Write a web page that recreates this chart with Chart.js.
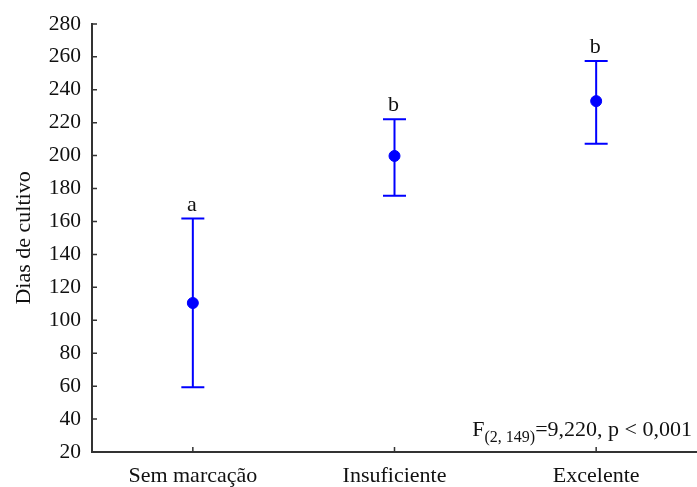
<!DOCTYPE html>
<html>
<head>
<meta charset="utf-8">
<script src="https://cdn.jsdelivr.net/npm/chart.js@4.4.1/dist/chart.umd.min.js"></script>
<style>
  html, body { margin: 0; padding: 0; background: #fff; }
  #grafico { display: block; }
</style>
</head>
<body>
<canvas id="grafico" width="697" height="487"></canvas>
<script>
// Dados
const categorias = ['Sem marcação', 'Insuficiente', 'Excelente'];
const medias = [110.5, 199.8, 233.1];
const limiteInferior = [59.4, 175.6, 207.2];
const limiteSuperior = [161.8, 222.1, 257.5];
const letras = ['a', 'b', 'b'];
const yTicks = [20, 40, 60, 80, 100, 120, 140, 160, 180, 200, 220, 240, 260, 280];

const fonte = "'Liberation Serif', 'Times New Roman', serif";
const azul = '#0000ff';

// Barras de erro, marcas internas dos eixos e anotações
const plugErro = {
    id: 'plugErro',
    beforeDatasetsDraw(chart) {
        const ctx = chart.ctx;
        const x = chart.scales.x, y = chart.scales.y;
        ctx.save();
        ctx.strokeStyle = azul;
        ctx.lineWidth = 2;
        categorias.forEach((c, i) => {
            const px = x.getPixelForValue(i);
            const yLo = y.getPixelForValue(limiteInferior[i]);
            const yHi = y.getPixelForValue(limiteSuperior[i]);
            ctx.beginPath();
            ctx.moveTo(px, yLo); ctx.lineTo(px, yHi);
            ctx.moveTo(px - 11.5, yLo); ctx.lineTo(px + 11.5, yLo);
            ctx.moveTo(px - 11.5, yHi); ctx.lineTo(px + 11.5, yHi);
            ctx.stroke();
        });
        ctx.restore();
    },
    afterDatasetsDraw(chart) {
        const ctx = chart.ctx;
        const x = chart.scales.x, y = chart.scales.y;
        const area = chart.chartArea;
        ctx.save();
        // marcas dos eixos (para dentro)
        ctx.strokeStyle = '#333';
        ctx.lineWidth = 1.5;
        ctx.beginPath();
        yTicks.forEach(v => {
            const py = y.getPixelForValue(v);
            ctx.moveTo(area.left, py); ctx.lineTo(area.left + 5, py);
        });
        categorias.forEach((c, i) => {
            const px = x.getPixelForValue(i);
            ctx.moveTo(px, area.bottom); ctx.lineTo(px, area.bottom - 5);
        });
        ctx.stroke();

        // letras de significância
        ctx.fillStyle = '#111';
        ctx.font = '22px ' + fonte;
        ctx.textAlign = 'center';
        ctx.textBaseline = 'alphabetic';
        letras.forEach((l, i) => {
            const px = x.getPixelForValue(i);
            const yHi = y.getPixelForValue(limiteSuperior[i]);
            ctx.fillText(l, px - 1, yHi - 8);
        });

        // estatística F
        const partes = [
            { t: 'F', f: '22px ' + fonte, dy: 0 },
            { t: '(2, 149)', f: '16px ' + fonte, dy: 6 },
            { t: '=9,220, p < 0,001', f: '22px ' + fonte, dy: 0 }
        ];
        let total = 0;
        partes.forEach(p => { ctx.font = p.f; total += ctx.measureText(p.t).width; });
        let cx = 692 - total;
        const base = 436;
        ctx.textAlign = 'left';
        partes.forEach(p => {
            ctx.font = p.f;
            ctx.fillText(p.t, cx, base + p.dy);
            cx += ctx.measureText(p.t).width;
        });
        ctx.restore();
    }
};

new Chart(document.getElementById('grafico'), {
    type: 'line',
    data: {
        labels: categorias,
        datasets: [{
            data: medias,
            showLine: false,
            pointRadius: 5.5,
            pointHoverRadius: 5.5,
            pointBackgroundColor: azul,
            pointBorderColor: azul,
            borderColor: azul
        }]
    },
    options: {
        responsive: false,
        animation: false,
        devicePixelRatio: 1,
        layout: { autoPadding: false, padding: { top: 21, right: 0, left: 0, bottom: 0 } },
        plugins: {
            legend: { display: false },
            tooltip: { enabled: false }
        },
        scales: {
            x: {
                type: 'category',
                offset: true,
                grid: { display: true, drawOnChartArea: false, drawTicks: true, tickLength: 11, tickColor: 'rgba(0,0,0,0)' },
                border: { display: true, color: '#333', width: 2 },
                ticks: { color: '#111', font: { family: fonte, size: 22 }, padding: 0, autoSkip: false, maxRotation: 0 },
                afterFit: s => { s.height = 35; }
            },
            y: {
                min: 20,
                max: 280,
                grid: { display: true, drawOnChartArea: false, drawTicks: false },
                border: { display: true, color: '#333', width: 2 },
                ticks: {
                    stepSize: 20,
                    autoSkip: false,
                    color: '#111',
                    font: { family: fonte, size: 21.5 },
                    padding: 11
                },
                title: {
                    display: true,
                    text: 'Dias de cultivo',
                    color: '#111',
                    font: { family: fonte, size: 22 },
                    padding: { top: 11, bottom: 0 }
                },
                afterFit: s => { s.width = 92; }
            }
        }
    },
    plugins: [plugErro]
});
</script>
</body>
</html>
